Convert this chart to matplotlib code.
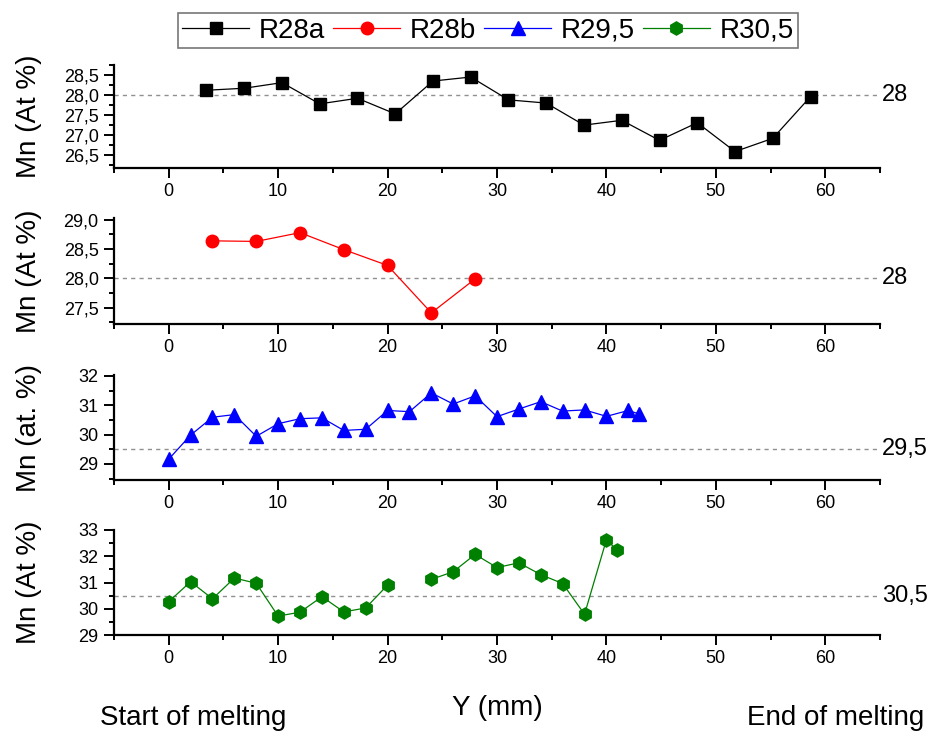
import numpy as np
import matplotlib
matplotlib.use('Agg')
import matplotlib.pyplot as plt
from matplotlib.ticker import MultipleLocator, FuncFormatter

plt.rcParams['font.family'] = ['Liberation Sans', 'DejaVu Sans']

# data
x_r28a = [3.45, 6.9, 10.35, 13.8, 17.25, 20.7, 24.15, 27.6, 31.05, 34.5,
          37.95, 41.4, 44.85, 48.3, 51.75, 55.2, 58.65]
mn_r28a = [28.12, 28.17, 28.31, 27.78, 27.92, 27.53, 28.35, 28.45, 27.88, 27.80,
           27.25, 27.37, 26.87, 27.31, 26.59, 26.92, 27.96]

x_r28b = [4, 8, 12, 16, 20, 24, 28]
mn_r28b = [28.64, 28.63, 28.78, 28.49, 28.22, 27.41, 27.99]

x_r295 = [0, 2, 4, 6, 8, 10, 12, 14, 16, 18, 20, 22, 24, 26, 28, 30, 32, 34,
          36, 38, 40, 42, 43]
mn_r295 = [29.16, 29.98, 30.59, 30.68, 29.94, 30.37, 30.54, 30.57, 30.14, 30.18,
           30.82, 30.78, 31.42, 31.04, 31.32, 30.61, 30.87, 31.12, 30.80, 30.84,
           30.62, 30.82, 30.70]

x_r305 = [0, 2, 4, 6, 8, 10, 12, 14, 16, 18, 20, 22, 24, 26, 28, 30, 32, 34,
          36, 38, 40, 41]
mn_r305 = [30.27, 31.03, 30.38, 31.17, 30.97, 29.72, 29.87, 30.46, 29.88, 30.03,
           30.90, np.nan, 31.12, 31.41, 32.07, 31.57, 31.75, 31.30, 30.96, 29.79,
           32.63, 32.22]

names = ['R28a', 'R28b', 'R29,5', 'R30,5']
ref_lines = [28, 28, 29.5, 30.5]
ref_labels = ['28', '28', '29,5', '30,5']
ylabels = ['Mn (At %)', 'Mn (At %)', 'Mn (at. %)', 'Mn (At %)']

xs = [x_r28a, x_r28b, x_r295, x_r305]
ys = [mn_r28a, mn_r28b, mn_r295, mn_r305]
colors = ['black', '#ff0000', '#0000ff', '#008000']
markers = ['s', 'o', '^', 'h']
msizes = [8.5, 9, 10, 9.5]
ylims = [(26.18, 28.75), (27.22, 29.03), (28.45, 32.03), (29, 33)]
ymaj = [0.5, 0.5, 1, 1]

W, H = 938.0, 738.0
tops = [65, 218, 375, 530]
bottoms = [168, 324, 480, 635]

fig = plt.figure(figsize=(W / 100, H / 100), dpi=100)

comma = FuncFormatter(lambda v, p: ('%.1f' % v).replace('.', ','))
comma0 = FuncFormatter(lambda v, p: '%d' % round(v))

handles = []
for i in range(4):
    ax = fig.add_axes([114 / W, 1 - bottoms[i] / H, (880 - 114) / W,
                       (bottoms[i] - tops[i]) / H])
    ln, = ax.plot(xs[i], ys[i], color=colors[i], lw=0.9, marker=markers[i],
                  ms=msizes[i], mec=colors[i], mfc=colors[i])
    handles.append(ln)
    ax.axhline(ref_lines[i], color='#909090', lw=1, ls=(0, (3, 3)), zorder=0)
    ax.text(1.003, ref_lines[i], ref_labels[i], transform=ax.get_yaxis_transform(),
            ha='left', va='center', fontsize=17)

    ax.set_xlim(-5, 65)
    ax.set_ylim(ylims[i])
    ax.xaxis.set_major_locator(MultipleLocator(10))
    ax.xaxis.set_minor_locator(MultipleLocator(5))
    ax.yaxis.set_major_locator(MultipleLocator(ymaj[i]))
    ax.yaxis.set_minor_locator(MultipleLocator(ymaj[i] / 2))
    if ymaj[i] < 1:
        ax.yaxis.set_major_formatter(comma)
    else:
        ax.yaxis.set_major_formatter(comma0)

    ax.spines['top'].set_visible(False)
    ax.spines['right'].set_visible(False)
    ax.spines['left'].set_linewidth(1.6)
    ax.spines['bottom'].set_linewidth(1.6)
    ax.tick_params(which='both', direction='out', width=1.4, labelsize=13)
    ax.tick_params(which='major', length=7, pad=4)
    ax.tick_params(which='minor', length=3.5)

    ax.set_ylabel(ylabels[i], fontsize=20)
    ax.yaxis.set_label_coords(-0.094, 0.5)

leg = fig.legend(handles, names, loc='center', bbox_to_anchor=(488 / W, 1 - 30.5 / H),
                 ncol=4, fontsize=20, frameon=True, fancybox=False,
                 handlelength=2.4, handletextpad=0.35, columnspacing=0.3,
                 borderpad=0.15, borderaxespad=0)
leg.get_frame().set_edgecolor('#555555')
leg.get_frame().set_linewidth(1.2)

fig.text(497 / W, 1 - 708 / H, 'Y (mm)', ha='center', va='center', fontsize=20)
fig.text(193 / W, 1 - 718 / H, 'Start of melting', ha='center', va='center', fontsize=20)
fig.text(836 / W, 1 - 718 / H, 'End of melting', ha='center', va='center', fontsize=20)

fig.savefig('out.png', dpi=100)
